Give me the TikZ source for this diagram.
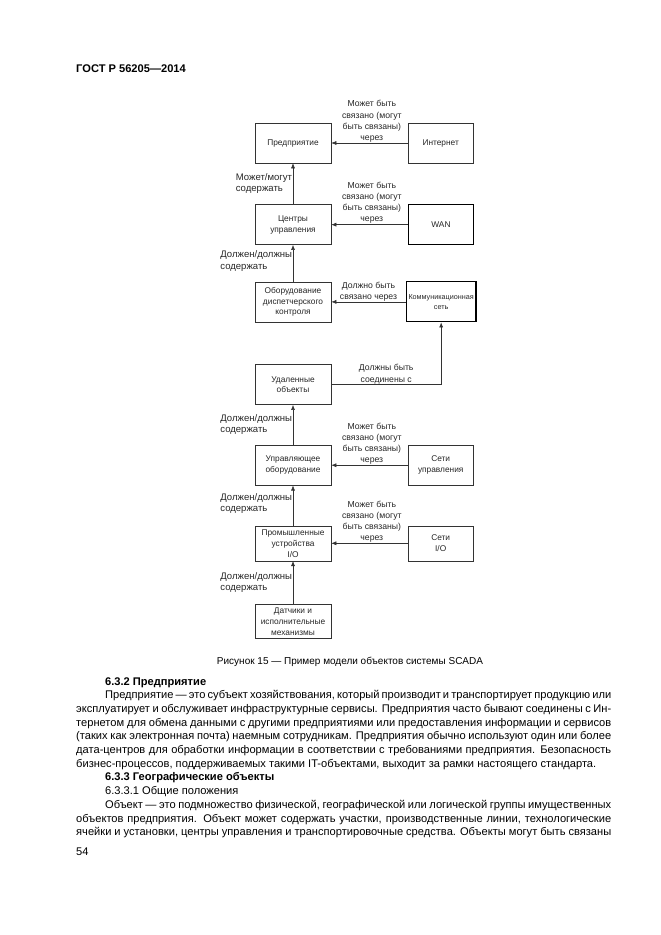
\documentclass[tikz,border=0pt]{standalone}
\usepackage{fontspec}
\setmainfont{Liberation Sans}
\usetikzlibrary{arrows.meta,positioning}

\begin{document}
\begin{tikzpicture}[x=0.9pt,y=-0.9pt,node distance=36pt and 69pt,
box/.style={draw=black!80,line width=0.5pt,align=center,font=\fontsize{7.5}{9.8}\selectfont,text=black!85,minimum width=68.4pt,minimum height=36pt,inner sep=2pt},
side/.style={box,minimum width=58.5pt},thickbox/.style={side,draw=black,line width=1pt},
arrow/.style={-{Latex[length=4.5pt,width=3.6pt]},draw=black!80,line width=0.5pt},
lbl/.style={font=\fontsize{7.8}{10}\selectfont,text=black!85,inner sep=0.6pt,align=center},
leftlbl/.style={lbl,font=\fontsize{8.6}{10}\selectfont,align=left},
body/.style={font=\fontsize{10}{12.33}\selectfont,inner sep=0pt,anchor=base west}]
\useasboundingbox (0,0) rectangle (661,935);
\node[body,font=\bfseries\fontsize{10}{12}\selectfont] (head) at (76,72) {ГОСТ Р 56205—2014};
\node[box] (ent) at (293,143) {Предприятие};
\node[side,right=of ent] (inet) {Интернет};
\node[box,below=37pt of ent] (ctr) {Центры\\управления};
\node[thickbox,right=of ctr] (wan) {WAN};
\node[box,below=33pt of ctr] (disp) {Оборудование\\диспетчерского\\контроля};
\node[thickbox,right=67pt of disp,minimum width=62pt,font=\fontsize{6.5}{9.5}\selectfont] (comm) {Коммуникационная\\сеть};
\node[box,below=38pt of disp] (rem) {Удаленные\\объекты};
\node[box,below=of rem] (ctl) {Управляющее\\оборудование};
\node[side,right=of ctl] (netc) {Сети\\управления};
\node[box,below=of ctl,minimum height=31.5pt] (io) {Промышленные\\устройства\\I/O};
\node[side,right=of io,minimum height=31.5pt] (netio) {Сети\\I/O};
\node[box,below=39pt of io,minimum height=30pt] (sens) {Датчики и\\исполнительные\\механизмы};
\draw[arrow] (inet) -- node[lbl,above,xshift=2pt] {Может быть\\связано (могут\\быть связаны)\\через} (ent);
\draw[arrow] (wan) -- node[lbl,above,xshift=2pt] {Может быть\\связано (могут\\быть связаны)\\через} (ctr);
\draw[arrow] (comm) -- node[lbl,above] {Должно быть\\связано через} (disp);
\draw[arrow] (rem) -| node[lbl,above,pos=.25] {Должны быть\\соединены с} (comm);
\draw[arrow] (netc) -- node[lbl,above,xshift=2pt] {Может быть\\связано (могут\\быть связаны)\\через} (ctl);
\draw[arrow] (netio) -- node[lbl,above,xshift=2pt] {Может быть\\связано (могут\\быть связаны)\\через} (io);
\draw[arrow] (ctr) -- node[leftlbl,left] {Может/могут\\содержать} (ent);
\draw[arrow] (disp) -- node[leftlbl,left,yshift=2pt] {Должен/должны\\содержать} (ctr);
\draw[arrow] (ctl) -- node[leftlbl,left] {Должен/должны\\содержать} (rem);
\draw[arrow] (io) -- node[leftlbl,left,yshift=2pt] {Должен/должны\\содержать} (ctl);
\draw[arrow] (sens) -- node[leftlbl,left] {Должен/должны\\содержать} (io);
\node[body,anchor=base,font=\fontsize{9}{11}\selectfont] (cap) at (350,664) {Рисунок 15 — Пример модели объектов системы SCADA};
\node[body,text width=481.5pt,align=justify] (text) at (76,685) {\setlength\parindent{26pt}\hyphenpenalty=10000\exhyphenpenalty=10000
\indent\textbf{6.3.2 Предприятие}\par
Предприятие — это субъект хозяйствования, который производит и транспортирует продукцию или\linebreak
эксплуатирует и обслуживает инфраструктурные сервисы. Предприятия часто бывают соединены с Ин-\linebreak
тернетом для обмена данными с другими предприятиями или предоставления информации и сервисов\linebreak
(таких как электронная почта) наемным сотрудникам. Предприятия обычно используют один или более\linebreak
дата-центров для обработки информации в соответствии с требованиями предприятия. Безопасность\linebreak
бизнес-процессов, поддерживаемых такими IT-объектами, выходит за рамки настоящего стандарта.\par
\textbf{6.3.3 Географические объекты}\par
6.3.3.1 Общие положения\par
{\parfillskip=0pt Объект — это подмножество физической, географической или логической группы имущественных\linebreak
объектов предприятия. Объект может содержать участки, производственные линии, технологические\linebreak
ячейки и установки, центры управления и транспортировочные средства. Объекты могут быть связаны\par}};
\node[body] (page) at (76,855) {54};
\end{tikzpicture}
\end{document}
